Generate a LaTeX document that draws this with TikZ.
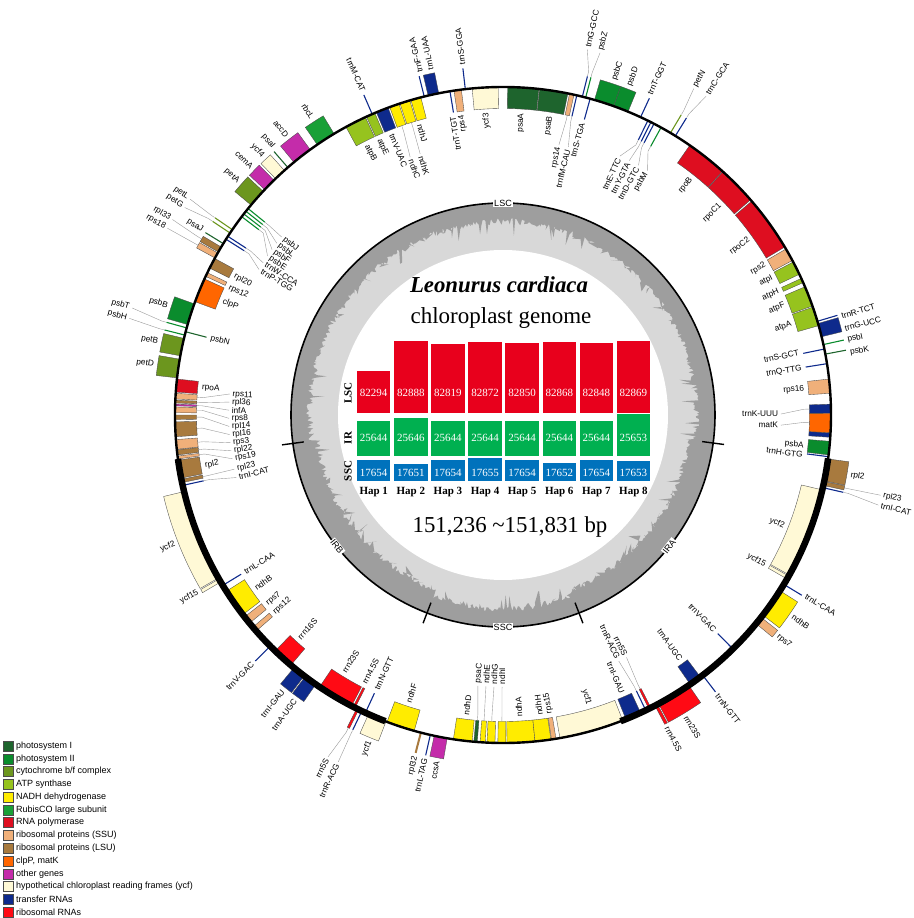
\documentclass[tikz,border=0pt]{standalone}
\usepackage{fontspec}
\setmainfont{Liberation Serif}
\newfontfamily\arial{Liberation Sans}
\definecolor{cPSI}{RGB}{30,100,45}
\definecolor{cPSII}{RGB}{10,140,45}
\definecolor{cCYT}{RGB}{108,150,30}
\definecolor{cATP}{RGB}{150,195,30}
\definecolor{cNDH}{RGB}{255,236,0}
\definecolor{cRBC}{RGB}{25,160,55}
\definecolor{cRPO}{RGB}{222,14,32}
\definecolor{cSSU}{RGB}{240,176,122}
\definecolor{cLSU}{RGB}{168,122,62}
\definecolor{cCLP}{RGB}{255,102,0}
\definecolor{cOTH}{RGB}{196,44,170}
\definecolor{cYCF}{RGB}{255,249,214}
\definecolor{cTRN}{RGB}{14,42,140}
\definecolor{cRRN}{RGB}{255,10,20}
\definecolor{gcl}{RGB}{216,216,216}
\definecolor{gcd}{RGB}{158,158,158}
\definecolor{barL}{RGB}{232,0,28}
\definecolor{barI}{RGB}{0,176,80}
\definecolor{barS}{RGB}{0,114,188}
\newcounter{nn}
\newcommand\gbox[4]{%
  \if#1o\def\gra{328.5pt}\def\grb{349pt}\else\def\gra{306.5pt}\def\grb{327.5pt}\fi
  \filldraw[fill=#4,draw=black!70,line width=0.35pt] (#2:\gra) arc[start angle=#2,end angle=#3,radius=\gra] -- (#3:\grb) arc[start angle=#3,end angle=#2,radius=\grb] -- cycle;}
\newcommand\gln[3]{%
  \if#1o\def\gra{328.5pt}\def\grb{349pt}\else\def\gra{306.5pt}\def\grb{327.5pt}\fi
  \draw[#3,line width=1.1pt] (#2:\gra) -- (#2:\grb);}
\newcommand\glab[3]{%
  \pgfmathsetmacro\gangle{mod(#2+720,360)}%
  \pgfmathtruncatemacro\isR{or(\gangle<104.5,\gangle>=280)}%
  \stepcounter{nn}%
  \if#1o%
    \ifnum\isR=1 \node[glabel,anchor=west,rotate=\gangle] (g\thenn) at (\gangle:352pt) {#3};%
    \else \node[glabel,anchor=east,rotate=\gangle+180] (g\thenn) at (\gangle:352pt) {#3};\fi
  \else
    \ifnum\isR=1 \node[glabel,anchor=east,rotate=\gangle] (g\thenn) at (\gangle:303pt) {#3};%
    \else \node[glabel,anchor=west,rotate=\gangle+180] (g\thenn) at (\gangle:303pt) {#3};\fi
  \fi}
\newcommand\glead[5]{%
  \pgfmathsetmacro\gangle{mod(#3+720,360)}%
  \pgfmathtruncatemacro\isR{or(\gangle<104.5,\gangle>=280)}%
  \stepcounter{nn}%
  \if#1o%
    \pgfmathsetmacro\grl{#5+2}%
    \coordinate (c\thenn) at (#3:#5pt);
    \draw[leader] (#2:349.5pt) -- (#2:354pt) -- (c\thenn);
    \ifnum\isR=1 \node[glabel,anchor=west,rotate=\gangle] (g\thenn) at (\gangle:\grl pt) {#4};%
    \else \node[glabel,anchor=east,rotate=\gangle+180] (g\thenn) at (\gangle:\grl pt) {#4};\fi
  \else
    \pgfmathsetmacro\grl{#5-2}%
    \coordinate (c\thenn) at (#3:#5pt);
    \draw[leader] (#2:306.5pt) -- (#2:301pt) -- (c\thenn);
    \ifnum\isR=1 \node[glabel,anchor=east,rotate=\gangle] (g\thenn) at (\gangle:\grl pt) {#4};%
    \else \node[glabel,anchor=west,rotate=\gangle+180] (g\thenn) at (\gangle:\grl pt) {#4};\fi
  \fi}
\tikzset{
  glabel/.style={font=\arial\fontsize{8.3}{9}\selectfont,inner sep=0.6pt},
  leader/.style={draw=black!40,line width=0.4pt},
  reg/.style={font=\arial\fontsize{9}{10}\selectfont,fill=white,inner sep=1pt},
  num/.style={font=\fontsize{11}{12}\selectfont,text=white,inner sep=0pt},
  hap/.style={font=\fontsize{11}{12}\selectfont\bfseries,inner sep=0pt},
  rowl/.style={font=\fontsize{11}{12}\selectfont\bfseries,inner sep=0pt,rotate=90},
  legtxt/.style={font=\arial\fontsize{9}{10}\selectfont,anchor=west,inner sep=0pt},
  legbox/.style={draw=black!70,line width=0.4pt}
}
\begin{document}
\begin{tikzpicture}[x=1pt,y=1pt]
\useasboundingbox (-503,-503) rectangle (410,415);
% ---------- GC content ring ----------
\fill[gcl] (0,0) circle[radius=212pt];
\fill[white] (0,0) circle[radius=165pt];
\pgfmathsetseed{7}
\fill[gcd,even odd rule] (0,0) circle[radius=212pt]
  plot[domain=0:359.6,samples=900,variable=\t] (\t:{197-6*((\t>187.7)*(\t<249)+(\t>291)*(\t<352.4))-7*rnd-12*(rnd>0.94)}) -- cycle;
\draw[line width=1.6pt] (0,0) circle[radius=212pt];
\foreach \a in {187.7,249,291,352.4} \draw[line width=1.4pt] (\a:201pt) -- (\a:223pt);
\node[reg] (rl1) at (90:212pt) {LSC};
\node[reg] (rl2) at (270:212pt) {SSC};
\node[reg,rotate=51.7] (rl3) at (321.7:212pt) {IRA};
\node[reg,rotate=-51.6] (rl4) at (218.4:212pt) {IRB};
% ---------- gene boxes and lines ----------
% LSC
\gln{i}{-7.3}{cTRN}
\gbox{i}{-7.0}{-4.6}{cPSII}
\gbox{i}{-3.9}{-3.1}{cTRN}
\gbox{i}{0.3}{1.9}{cTRN}
\gbox{i}{-3.1}{0.3}{cCLP}
\gbox{i}{3.8}{6.3}{cSSU}
\gln{i}{9.0}{cTRN}
\gln{o}{10.7}{cPSI}
\gln{i}{11.6}{cTRN}
\gln{o}{12.4}{cPSII}
\gbox{o}{13.8}{16.2}{cTRN}
\gln{o}{16.6}{cTRN}
\gbox{i}{15.8}{19.2}{cATP}
\gbox{i}{19.4}{23.0}{cATP}
\gbox{i}{23.8}{24.6}{cATP}
\gbox{i}{25.4}{27.8}{cATP}
\gbox{i}{28.1}{30.4}{cSSU}
\gbox{i}{30.8}{40.7}{cRPO}
\gbox{i}{41.0}{47.9}{cRPO}
\gbox{i}{48.0}{55.3}{cRPO}
\gln{o}{58.3}{cTRN}
\gln{o}{59.3}{cCYT}
\gln{i}{61.2}{cPSII}
\gln{i}{62.6}{cTRN}
\gln{i}{63.2}{cTRN}
\gln{i}{63.8}{cTRN}
\gln{o}{65.2}{cTRN}
\gbox{o}{67.6}{70.3}{cPSII}
\gbox{o}{70.3}{73.8}{cPSII}
\gln{i}{74.6}{cTRN}
\gln{o}{75.4}{cPSII}
\gln{o}{76.0}{cTRN}
\gln{i}{77.0}{cTRN}
\gbox{i}{77.5}{78.3}{cSSU}
\gbox{i}{78.6}{83.6}{cPSI}
\gbox{i}{83.7}{89.2}{cPSI}
\gbox{i}{90.8}{95.4}{cYCF}
\gln{o}{96.6}{cTRN}
\gbox{i}{97.3}{98.6}{cSSU}
\gln{i}{99.3}{cTRN}
\gbox{o}{101.3}{103.2}{cTRN}
\gln{o}{103.9}{cTRN}
\gbox{i}{104.5}{106.3}{cNDH}
\gbox{i}{106.5}{108.3}{cNDH}
\gbox{i}{108.5}{110.2}{cNDH}
\gbox{i}{110.5}{112.7}{cTRN}
\gln{o}{113.5}{cTRN}
\gbox{i}{113.0}{114.6}{cATP}
\gbox{i}{114.8}{118.6}{cATP}
\gbox{o}{121.0}{124.5}{cRBC}
\gbox{o}{126.0}{129.6}{cOTH}
\gln{o}{131.0}{cPSI}
\gbox{o}{131.8}{133.9}{cYCF}
\gbox{o}{134.3}{136.6}{cOTH}
\gbox{o}{137.0}{140.2}{cCYT}
\gln{i}{141.0}{cPSII}
\gln{i}{141.6}{cPSII}
\gln{i}{142.2}{cPSII}
\gln{i}{142.8}{cPSII}
\gln{o}{145.6}{cCYT}
\gln{o}{146.3}{cCYT}
\gln{i}{147.0}{cTRN}
\gln{i}{147.6}{cTRN}
\gln{o}{148.5}{cPSI}
\gbox{o}{149.2}{150.2}{cLSU}
\gbox{o}{150.4}{151.4}{cSSU}
\gbox{i}{151.5}{153.4}{cLSU}
\gbox{i}{154.3}{155.0}{cSSU}
\gbox{i}{155.5}{159.8}{cCLP}
\gbox{o}{160.2}{164.0}{cPSII}
\gln{o}{164.6}{cPSII}
\gln{i}{165.3}{cPSI}
\gln{o}{165.9}{cPSII}
\gbox{o}{166.5}{169.6}{cCYT}
\gbox{o}{170.2}{173.5}{cCYT}
\gbox{i}{173.7}{176.0}{cRPO}
\gbox{i}{176.2}{177.2}{cSSU}
\gbox{i}{177.4}{177.9}{cLSU}
\gbox{i}{178.1}{178.4}{cOTH}
\gbox{i}{178.6}{179.6}{cSSU}
\gbox{i}{180.0}{180.8}{cLSU}
\gbox{i}{181.2}{183.8}{cLSU}
\gbox{i}{184.3}{186.0}{cSSU}
\gbox{i}{186.1}{187.0}{cLSU}
\gbox{i}{187.2}{187.7}{cSSU}
% IRB
\gbox{i}{187.9}{191.1}{cLSU}
\gbox{i}{191.3}{191.9}{cLSU}
\gln{i}{192.4}{cTRN}
\gbox{o}{193.5}{209.8}{cYCF}
\gbox{o}{210.0}{210.6}{cYCF}
\gln{i}{211.3}{cTRN}
\gbox{i}{212.5}{217.5}{cNDH}
\gbox{i}{218.0}{219.4}{cSSU}
\gbox{i}{220.3}{221.2}{cSSU}
\gln{o}{224.8}{cTRN}
\gbox{i}{226.0}{229.7}{cRRN}
\gbox{o}{230.4}{232.7}{cTRN}
\gbox{o}{232.9}{235.2}{cTRN}
\gbox{i}{236.0}{242.5}{cRRN}
\gbox{i}{242.8}{243.2}{cRRN}
\gln{i}{245.2}{cTRN}
\gbox{o}{243.5}{243.9}{cRRN}
\gln{o}{244.5}{cTRN}
\gbox{o}{245.8}{249.1}{cYCF}
% SSC
\gbox{i}{249.3}{254.3}{cNDH}
\draw[cLSU,line width=2pt] (255.5:329pt) -- (255.5:349pt);
\gln{o}{257.2}{cTRN}
\gbox{o}{257.9}{260.2}{cOTH}
\gbox{i}{261.3}{264.6}{cNDH}
\gbox{i}{264.9}{265.5}{cPSI}
\gbox{i}{266.0}{266.9}{cNDH}
\gbox{i}{267.2}{268.6}{cNDH}
\gbox{i}{269.1}{270.5}{cNDH}
\gbox{i}{270.7}{275.6}{cNDH}
\gbox{i}{275.6}{278.4}{cNDH}
\gbox{i}{278.5}{279.3}{cSSU}
\gbox{i}{280.0}{291.4}{cYCF}
% IRA
\gbox{i}{292.0}{294.8}{cTRN}
\gln{i}{295.8}{cTRN}
\gbox{i}{296.4}{296.8}{cRRN}
\gbox{o}{297.6}{298.1}{cRRN}
\gbox{o}{298.3}{304.5}{cRRN}
\gbox{i}{304.8}{307.0}{cTRN}
\gln{o}{307.5}{cTRN}
\gln{i}{314.5}{cTRN}
\gbox{o}{320.5}{321.9}{cSSU}
\gbox{o}{322.4}{327.6}{cNDH}
\gln{o}{328.9}{cTRN}
\gbox{i}{330.0}{330.6}{cYCF}
\gbox{i}{330.8}{346.8}{cYCF}
\gln{o}{347.2}{cTRN}
\gbox{o}{347.6}{348.3}{cLSU}
\gbox{o}{348.4}{352.3}{cLSU}
% ---------- genome circle ----------
\draw[line width=2.4pt] (0,0) circle[radius=328pt];
\draw[line width=6.5pt] (187.7:328pt) arc[start angle=187.7,end angle=249,radius=328pt];
\draw[line width=6.5pt] (291:328pt) arc[start angle=291,end angle=352.4,radius=328pt];
% ---------- gene labels ----------
\glab{i}{-7.6}{trnH-GTG}
\glab{i}{-5.8}{psbA}
\glead{i}{1.1}{0.2}{trnK-UUU}{278}
\glead{i}{-1.4}{-2.1}{matK}{278}
\glab{i}{5.0}{rps16}
\glab{i}{8.8}{trnQ-TTG}
\glab{o}{10.2}{psbK}
\glab{i}{11.9}{trnS-GCT}
\glab{o}{12.3}{psbI}
\glab{o}{14.2}{trnG-UCC}
\glab{o}{16.3}{trnR-TCT}
\glab{i}{17.5}{atpA}
\glab{i}{21.3}{atpF}
\glab{i}{24.2}{atpH}
\glab{i}{27.0}{atpI}
\glab{i}{29.8}{rps2}
\glab{i}{35.5}{rpoC2}
\glab{i}{44.0}{rpoC1}
\glab{i}{51.5}{rpoB}
\glead{o}{58.3}{57.5}{trnC-GCA}{378}
\glead{o}{59.3}{59.7}{petN}{378}
\glead{i}{61.2}{59.4}{psbM}{284}
\glead{i}{62.6}{61.5}{trnD-GTC}{284}
\glead{i}{63.2}{63.6}{trnY-GTA}{284}
\glead{i}{63.8}{65.7}{trnE-TTC}{284}
\glab{o}{65.4}{trnT-GGT}
\glab{o}{69.0}{psbD}
\glab{o}{71.6}{psbC}
\glab{i}{74.8}{trnS-TGA}
\glead{o}{75.4}{75.0}{psbZ}{375}
\glead{o}{76.0}{77.0}{trnG-GCC}{375}
\glead{i}{77.0}{76.3}{trnfM-CAU}{276}
\glead{i}{77.9}{78.3}{rps14}{276}
\glab{i}{81.0}{psaB}
\glab{i}{86.5}{psaA}
\glab{i}{93.2}{ycf3}
\glab{o}{96.6}{trnS-GGA}
\glab{i}{97.9}{rps4}
\glab{i}{99.6}{trnT-TGT}
\glab{o}{101.8}{trnL-UAA}
\glab{o}{103.6}{trnF-GAA}
\glab{i}{106.0}{ndhJ}
\glead{i}{107.4}{107.6}{ndhK}{274}
\glead{i}{109.3}{109.8}{ndhC}{274}
\glab{i}{111.6}{trnV-UAC}
\glab{o}{113.4}{trnM-CAT}
\glab{i}{114.2}{atpE}
\glab{i}{116.8}{atpB}
\glab{o}{122.7}{rbcL}
\glab{o}{127.8}{accD}
\glab{o}{130.6}{psaI}
\glab{o}{132.9}{ycf4}
\glab{o}{135.4}{cemA}
\glab{o}{138.6}{petA}
\glead{i}{141.0}{141.2}{psbJ}{284}
\glead{i}{141.6}{142.8}{psbL}{284}
\glead{i}{142.2}{144.4}{psbF}{284}
\glead{i}{142.8}{146.0}{psbE}{284}
\glead{o}{145.6}{145.4}{petL}{380}
\glead{o}{146.3}{146.9}{petG}{380}
\glead{i}{147.0}{147.6}{trnW-CCA}{284}
\glead{i}{147.6}{149.2}{trnP-TGG}{284}
\glab{o}{148.4}{psaJ}
\glead{o}{149.7}{149.4}{rpl33}{384}
\glead{o}{150.9}{150.9}{rps18}{384}
\glab{i}{152.6}{rpl20}
\glab{i}{155.0}{rps12}
\glab{i}{157.9}{clpP}
\glab{o}{162.0}{psbB}
\glead{o}{164.6}{163.9}{psbT}{386}
\glab{i}{165.3}{psbN}
\glead{o}{165.9}{165.5}{psbH}{386}
\glab{o}{168.0}{petB}
\glab{o}{171.8}{petD}
\glab{i}{174.8}{rpoA}
\glead{i}{176.7}{175.6}{rps11}{274}
\glead{i}{177.65}{177.3}{rpl36}{274}
\glead{i}{178.25}{179.0}{infA}{274}
\glead{i}{179.1}{180.7}{rps8}{274}
\glead{i}{180.4}{182.4}{rpl14}{274}
\glead{i}{182.5}{184.1}{rpl16}{274}
\glead{i}{185.1}{185.8}{rps3}{274}
\glead{i}{186.5}{187.5}{rpl22}{274}
\glead{i}{187.45}{189.2}{rps19}{274}
\glab{i}{189.6}{rpl2}
\glead{i}{191.6}{191.4}{rpl23}{274}
\glead{i}{192.4}{193.2}{trnI-CAT}{274}
\glab{o}{201.5}{ycf2}
\glab{o}{210.1}{ycf15}
\glab{i}{211.3}{trnL-CAA}
\glab{i}{215.0}{ndhB}
\glab{i}{218.7}{rps7}
\glab{i}{220.8}{rps12}
\glab{o}{224.8}{trnV-GAC}
\glab{i}{227.6}{rrn16S}
\glab{o}{231.4}{trnI-GAU}
\glab{o}{233.9}{trnA-UGC}
\glab{i}{238.3}{rrn23S}
\glab{i}{242.7}{rrn4.5S}
\glab{i}{245.3}{trnN-GTT}
\glead{o}{243.7}{242.9}{rrn5S}{384}
\glead{o}{244.5}{244.6}{trnR-ACG}{384}
\glab{o}{247.8}{ycf1}
\glab{i}{251.8}{ndhF}
\glab{o}{255.6}{rpl32}
\glab{o}{257.2}{trnL-TAG}
\glab{o}{259.2}{ccsA}
\glab{i}{263.0}{ndhD}
\glead{i}{265.2}{264.7}{psaC}{272}
\glead{i}{266.45}{266.4}{ndhE}{272}
\glead{i}{267.9}{268.1}{ndhG}{272}
\glead{i}{269.8}{269.8}{ndhI}{272}
\glab{i}{273.1}{ndhA}
\glab{i}{277.0}{ndhH}
\glab{i}{278.9}{rps15}
\glab{i}{286.5}{ycf1}
\glab{i}{293.2}{trnI-GAU}
\glead{i}{295.8}{295.2}{trnR-ACG}{272}
\glead{i}{296.6}{297.0}{rrn5S}{272}
\glab{o}{297.7}{rrn4.5S}
\glab{o}{301.2}{rrn23S}
\glab{i}{306.0}{trnA-UGC}
\glab{o}{307.4}{trnN-GTT}
\glab{i}{314.5}{trnV-GAC}
\glab{o}{321.2}{rps7}
\glab{o}{325.2}{ndhB}
\glab{o}{329.1}{trnL-CAA}
\glab{i}{330.2}{ycf15}
\glab{i}{338.5}{ycf2}
\glead{o}{347.2}{346.5}{trnI-CAT}{386}
\glead{o}{347.95}{348.0}{rpl23}{386}
\glab{o}{350.2}{rpl2}
% ---------- centre ----------
\node[font=\fontsize{22.8}{24}\selectfont\bfseries\itshape] (title) at (-4,130) {Leonurus cardiaca};
\node[font=\fontsize{23}{24}\selectfont] (sub) at (-2,97) {chloroplast genome};
\node[font=\fontsize{22.8}{24}\selectfont] (bp) at (7,-112) {151,236 \textasciitilde151,831 bp};
\foreach \i/\tp/\v in {1/44/82294,2/74/82888,3/71/82819,4/73/82872,5/72/82850,6/73/82868,7/72/82848,8/74/82869}{
  \pgfmathsetmacro\xl{-146+(\i-1)*37.1}
  \fill[barL] (\xl,2) rectangle (\xl+33.5,\tp);
  \node[num] (lsc\i) at (\xl+16.75,22) {\v};}
\foreach \i/\tp/\v in {1/-6/25644,2/-3/25646,3/-6/25644,4/-6/25644,5/-6/25644,6/-6/25644,7/-6/25644,8/1/25653}{
  \pgfmathsetmacro\xl{-146+(\i-1)*37.1}
  \fill[barI] (\xl,-41) rectangle (\xl+33.5,\tp);
  \node[num] (ir\i) at (\xl+16.75,-23) {\v};}
\foreach \i/\tp/\v in {1/-45/17654,2/-49/17651,3/-45/17654,4/-43/17655,5/-45/17654,6/-48/17652,7/-45/17654,8/-46/17653}{
  \pgfmathsetmacro\xl{-146+(\i-1)*37.1}
  \fill[barS] (\xl,-66) rectangle (\xl+33.5,\tp);
  \node[num] (ssc\i) at (\xl+16.75,-58) {\v};
  \node[hap] (hap\i) at (\xl+16.75,-77) {Hap \i};}
\node[rowl] (rowLSC) at (-155,22) {LSC};
\node[rowl] (rowIR) at (-155,-23) {IR};
\node[rowl] (rowSSC) at (-155,-56) {SSC};
% ---------- legend ----------
\foreach \k/\c/\txt in {0/cPSI/photosystem I,1/cPSII/photosystem II,2/cCYT/cytochrome b\slash f complex,3/cATP/ATP synthase,4/cNDH/NADH dehydrogenase,5/cRBC/RubisCO large subunit,6/cRPO/RNA polymerase,7/cSSU/ribosomal proteins (SSU),8/cLSU/ribosomal proteins (LSU),9/cCLP/{clpP, matK},10/cOTH/other genes,11/cYCF/hypothetical chloroplast reading frames (ycf),12/cTRN/transfer RNAs,13/cRRN/ribosomal RNAs}{
  \pgfmathsetmacro\ly{-331-12.77*\k}
  \filldraw[legbox,fill=\c] (-500,\ly-5) rectangle (-490,\ly+5);
  \node[legtxt] (leg\k) at (-487,\ly) {\txt};}
\end{tikzpicture}
\end{document}
